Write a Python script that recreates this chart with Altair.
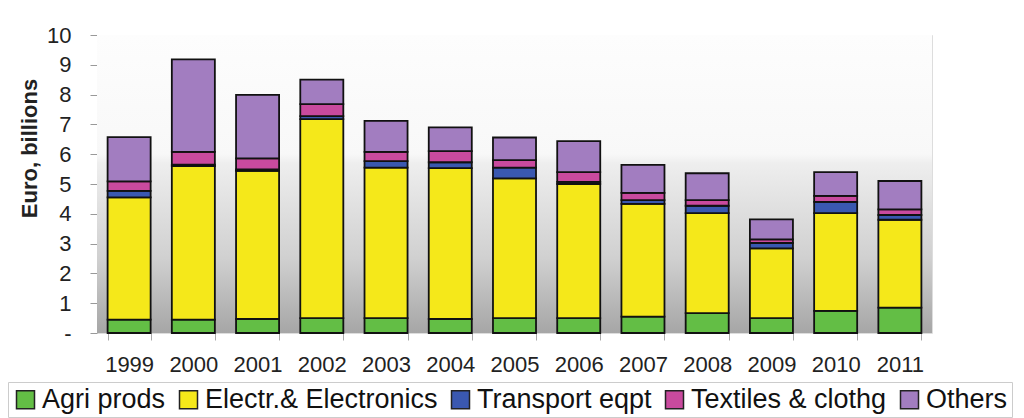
import altair as alt
import pandas as pd

years = ["1999", "2000", "2001", "2002", "2003", "2004", "2005",
         "2006", "2007", "2008", "2009", "2010", "2011"]
agri = [0.45, 0.45, 0.47, 0.50, 0.50, 0.47, 0.50, 0.50, 0.55, 0.67, 0.50, 0.74, 0.85]
elec = [4.10, 5.15, 4.97, 6.68, 5.05, 5.06, 4.69, 4.50, 3.78, 3.35, 2.34, 3.28, 2.95]
transport = [0.22, 0.05, 0.05, 0.10, 0.22, 0.20, 0.36, 0.07, 0.13, 0.25, 0.18, 0.38, 0.16]
textiles = [0.32, 0.43, 0.37, 0.40, 0.31, 0.37, 0.25, 0.33, 0.24, 0.19, 0.12, 0.20, 0.19]
others = [1.48, 3.10, 2.13, 0.82, 1.04, 0.80, 0.76, 1.04, 0.94, 0.90, 0.67, 0.80, 0.95]

series_names = ["Agri prods", "Electr.& Electronics", "Transport eqpt",
                "Textiles & clothg", "Others"]
series_colors = ["#63BE45", "#F5E81A", "#3A58B0", "#C94A9E", "#A27DC0"]
series_values = [agri, elec, transport, textiles, others]

rows = []
for si, (name, vals) in enumerate(zip(series_names, series_values)):
    for y, v in zip(years, vals):
        rows.append({"year": y, "series": name, "value": v, "order": si})
df = pd.DataFrame(rows)

W, H = 835, 298
FONT = "Liberation Sans"

bg = alt.Chart(pd.DataFrame({"a": [0]})).mark_rect(
    fill=alt.LinearGradient(
        gradient="linear", x1=0, x2=0, y1=0, y2=1,
        stops=[
            alt.GradientStop(offset=0, color="#fdfdfd"),
            alt.GradientStop(offset=0.40, color="#f8f8f8"),
            alt.GradientStop(offset=0.43, color="#eeeeee"),
            alt.GradientStop(offset=0.75, color="#d0d0d0"),
            alt.GradientStop(offset=1, color="#a6a6a6"),
        ],
    )
).encode(x=alt.value(0), x2=alt.value(W), y=alt.value(0), y2=alt.value(H))

bars = alt.Chart(df).mark_bar(stroke="#111111", strokeWidth=1.8).encode(
    x=alt.X("year:N", sort=years,
            scale=alt.Scale(paddingInner=0.33, paddingOuter=0.165),
            axis=alt.Axis(title=None, labelAngle=0, labelFontSize=22, labelFont=FONT,
                          labelColor="#222222", tickBand="extent", tickSize=7,
                          tickColor="#aaaaaa", labelPadding=14, domain=False)),
    y=alt.Y("value:Q", stack="zero",
            scale=alt.Scale(domain=[0, 10], nice=False),
            axis=alt.Axis(title="Euro, billions", values=list(range(0, 11)),
                          labelExpr="datum.value == 0 ? '-\u00a0\u00a0\u00a0\u00a0' : datum.label",
                          labelFontSize=22, labelFont=FONT, labelColor="#222222",
                          tickSize=7, tickColor="#999999", labelPadding=19,
                          grid=False, domain=False,
                          titleFont=FONT, titleFontSize=22, titleFontWeight="bold",
                          titleColor="#222222", titleX=-61, titleY=113,
                          titleAngle=270, titleAlign="center", titleBaseline="alphabetic")),
    color=alt.Color("series:N", sort=series_names,
                    scale=alt.Scale(domain=series_names, range=series_colors),
                    legend=alt.Legend(title=None, orient="none", legendX=-89, legendY=347,
                                      direction="horizontal", symbolType="square",
                                      symbolSize=324, symbolStrokeColor="#222222",
                                      symbolStrokeWidth=1.5, labelFontSize=27,
                                      labelFont=FONT, labelColor="#111111", labelOffset=3,
                                      columnPadding=9, padding=4, strokeColor="#cccccc",
                                      labelLimit=0)),
    order=alt.Order("order:Q", sort="ascending"),
)

chart = alt.layer(bg, bars).properties(
    width=W, height=H,
    autosize=alt.AutoSizeParams(type="none"),
    padding={"left": 97, "top": 35, "right": 92, "bottom": 85},
).configure_view(stroke="#555555", strokeWidth=1.5).configure(background="white")

chart.save("out.html", embed_options={"renderer": "svg", "actions": False})
